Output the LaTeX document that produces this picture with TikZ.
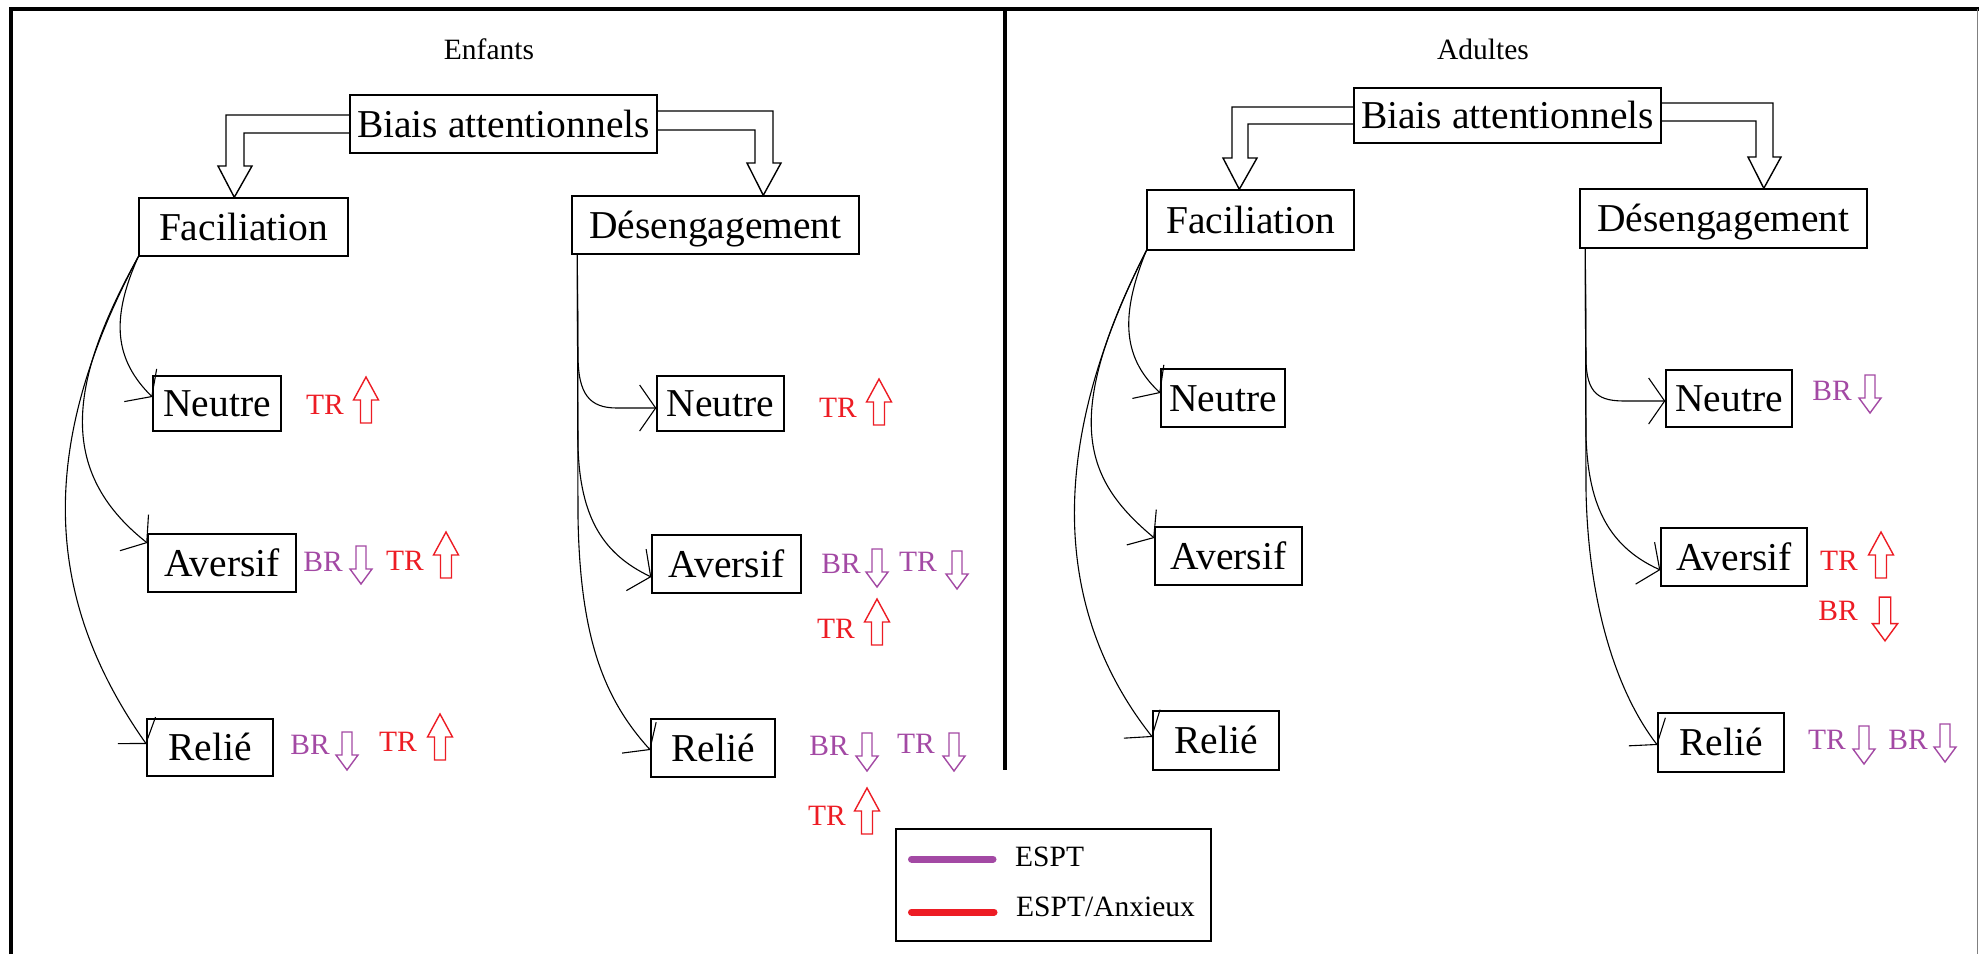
\documentclass[tikz,border=0pt]{standalone}
\usepackage{fontspec}
\setmainfont{Liberation Serif}
\usetikzlibrary{arrows.meta,calc}
\definecolor{pur}{HTML}{A349A4}
\definecolor{rd}{HTML}{ED1C24}
\begin{document}
\begin{tikzpicture}[x=1pt,y=-1pt,
  box/.style={draw,line width=1.4pt,inner sep=0pt,text height=26pt,text depth=0pt,font=\fontsize{39.5}{41}\selectfont},
  lab/.style={inner sep=0pt,text height=19.5pt,text depth=0pt,font=\fontsize{29.5}{31}\selectfont},
  ttl/.style={inner sep=0pt,font=\fontsize{29.5}{31}\selectfont},
  conn/.style={line width=1.1pt,-{Straight Barb[length=16pt,width=46pt]}},
  dbl/.style={line width=1.4pt,line join=miter},
  uparr/.pic={\draw[line width=1.4pt] (-5.5,23) -- (5.5,23) -- (5.5,0) -- (12.5,0) -- (0,-23) -- (-12.5,0) -- (-5.5,0) -- cycle;},
  downarr/.pic={\draw[line width=1.4pt] (-5,-19) -- (5,-19) -- (5,4) -- (11,4) -- (0,19) -- (-11,4) -- (-5,4) -- cycle;}
]
\fill[white] (0,0) rectangle (1979,954);
\useasboundingbox (0,0) rectangle (1979,954);
% frame
\draw[line width=4pt] (10.5,954) -- (10.5,9) -- (1979,9);
\draw[gray,line width=1pt] (1977.5,9) -- (1977.5,954);
\draw[line width=3.5pt] (1005,9) -- (1005,770);
% titles
\node[ttl] (t1) at (489,49) {Enfants};
\node[ttl] (t2) at (1483,49) {Adultes};
% left panel boxes
\node[box,minimum width=307pt,minimum height=58pt] (b1) at (503.5,124) {Biais attentionnels};
\node[box,minimum width=209pt,minimum height=58pt] (f1) at (243.5,227) {Faciliation};
\node[box,minimum width=287pt,minimum height=58pt] (d1) at (715.5,225) {Désengagement};
\node[box,minimum width=128pt,minimum height=55pt] (n1) at (217,403.5) {Neutre};
\node[box,minimum width=148pt,minimum height=58pt] (a1) at (222,563) {Aversif};
\node[box,minimum width=126pt,minimum height=57pt] (r1) at (210,747.5) {Relié};
\node[box,minimum width=127pt,minimum height=55pt] (n2) at (720.5,403.5) {Neutre};
\node[box,minimum width=149pt,minimum height=58pt] (a2) at (726.5,564) {Aversif};
\node[box,minimum width=124pt,minimum height=58pt] (r2) at (713,748) {Relié};
% right panel boxes
\node[box,minimum width=307pt,minimum height=55pt] (b2) at (1507.5,115.5) {Biais attentionnels};
\node[box,minimum width=207pt,minimum height=60pt] (f2) at (1250.5,220) {Faciliation};
\node[box,minimum width=287pt,minimum height=59pt] (d2) at (1723.5,218.5) {Désengagement};
\node[box,minimum width=124pt,minimum height=58pt] (n3) at (1223,398) {Neutre};
\node[box,minimum width=147pt,minimum height=58pt] (a3) at (1228.5,556) {Aversif};
\node[box,minimum width=126pt,minimum height=59pt] (r3) at (1216,740.5) {Relié};
\node[box,minimum width=126pt,minimum height=57pt] (n4) at (1729,398.5) {Neutre};
\node[box,minimum width=146pt,minimum height=58pt] (a4) at (1734,557) {Aversif};
\node[box,minimum width=126pt,minimum height=59pt] (r4) at (1721,742.5) {Relié};
% double hollow arrows
\draw[dbl] ($(b1.west)+(0,-9)$) -- (226,115) -- (226,166) -- (218,166) -- ($(f1.north west)+(96,0)$) -- (252,166) -- (244,166) -- (244,133) -- ($(b1.west)+(0,9)$);
\draw[dbl] ($(b1.east)+(0,-13)$) -- (773,111) -- (773,163) -- (781,163) -- ($(d1.north west)+(192,0)$) -- (747,163) -- (755,163) -- (755,130) -- ($(b1.east)+(0,6)$);
\draw[dbl] ($(b2.west)+(0,-8.5)$) -- (1232,107) -- (1232,158) -- (1223,158) -- ($(f2.north west)+(93,0)$) -- (1257,158) -- (1248,158) -- (1248,124) -- ($(b2.west)+(0,8.5)$);
\draw[dbl] ($(b2.east)+(0,-12.5)$) -- (1773,103) -- (1773,157) -- (1781,157) -- ($(d2.north west)+(184.5,0)$) -- (1748,157) -- (1756,157) -- (1756,121) -- ($(b2.east)+(0,5.5)$);
% left Faciliation branches
\draw[conn] (f1.south west) .. controls (110,320) and (115,360) .. ($(n1.west)+(0,-6.5)$);
\draw[conn] (f1.south west) .. controls (70,380) and (55,470) .. ($(a1.west)+(0,-20)$);
\draw[conn] (f1.south west) .. controls (35,450) and (45,600) .. ($(r1.west)+(0,-3.5)$);
% left Desengagement branches
\draw[conn] ($(d1.south west)+(6,0)$) -- (578,355) .. controls (578,395) and (590,408) .. (617,408) -- ($(n2.west)+(0,4.5)$);
\draw[conn] ($(d1.south west)+(6,0)$) -- (578,446) .. controls (580,520) and (605,555) .. ($(a2.west)+(0,13)$);
\draw[conn] ($(d1.south west)+(6,0)$) -- (578,517) .. controls (580,640) and (605,700) .. ($(r2.west)+(0,2)$);
% right Faciliation branches
\draw[conn] (f2.south west) .. controls (1118,320) and (1125,360) .. ($(n3.west)+(0,-5)$);
\draw[conn] (f2.south west) .. controls (1060,420) and (1085,480) .. ($(a3.west)+(0,-18)$);
\draw[conn] (f2.south west) .. controls (1040,460) and (1060,620) .. ($(r3.west)+(0,-3.5)$);
% right Desengagement branches
\draw[conn] ($(d2.south west)+(6,0)$) -- (1586,358) .. controls (1586,395) and (1600,401) .. (1625,401) -- ($(n4.west)+(0,2.5)$);
\draw[conn] ($(d2.south west)+(6,0)$) -- (1586,436) .. controls (1588,500) and (1605,545) .. ($(a4.west)+(0,13)$);
\draw[conn] ($(d2.south west)+(6,0)$) -- (1586,490) .. controls (1588,600) and (1615,690) .. ($(r4.west)+(0,2.5)$);
% annotations left
\node[lab,text=rd] (n1t) at (325,405) {TR}; \pic[rd] at (366,400) {uparr};
\node[lab,text=pur] (a1b) at (323,562) {BR}; \pic[pur] at (361,565) {downarr};
\node[lab,text=rd] (a1t) at (405,561) {TR}; \pic[rd] at (446,555) {uparr};
\node[lab,text=pur] (r1b) at (310,745) {BR}; \pic[pur] at (347,751) {downarr};
\node[lab,text=rd] (r1t) at (398,742) {TR}; \pic[rd] at (440,737) {uparr};
\node[lab,text=rd] (n2t) at (838,408) {TR}; \pic[rd] at (879,402) {uparr};
\node[lab,text=pur] (a2b) at (841,564) {BR}; \pic[pur] at (877,568) {downarr};
\node[lab,text=pur] (a2t) at (918,562) {TR}; \pic[pur] at (957,570) {downarr};
\node[lab,text=rd] (a2r) at (836,629) {TR}; \pic[rd] at (877,622) {uparr};
\node[lab,text=pur] (r2b) at (829,746) {BR}; \pic[pur] at (867,752) {downarr};
\node[lab,text=pur] (r2t) at (916,744) {TR}; \pic[pur] at (954,752) {downarr};
\node[lab,text=rd] (r2r) at (827,816) {TR}; \pic[rd] at (867,811) {uparr};
% annotations right
\node[lab,text=pur] (n4b) at (1832,391) {BR}; \pic[pur] at (1870,394) {downarr};
\node[lab,text=rd] (a4t) at (1839,561) {TR}; \pic[rd] at (1881,555) {uparr};
\node[lab,text=rd] (a4b) at (1838,611) {BR}; \pic[rd,scale=1.15] at (1885,619) {downarr};
\node[lab,text=pur] (r4t) at (1827,740) {TR}; \pic[pur] at (1864,745) {downarr};
\node[lab,text=pur] (r4b) at (1908,740) {BR}; \pic[pur] at (1945,743) {downarr};
% legend
\node[draw,line width=1.5pt,minimum width=315pt,minimum height=112pt,inner sep=0pt] (leg) at (1053.5,885) {};
\draw[pur,line width=7pt,line cap=round] (911.5,859) -- (993,859);
\draw[rd,line width=7pt,line cap=round] (911.5,912) -- (994,912);
\node[lab,anchor=west] (l1) at (1015,857) {ESPT};
\node[lab,anchor=west] (l2) at (1016,907) {ESPT/Anxieux};
\end{tikzpicture}
\end{document}
